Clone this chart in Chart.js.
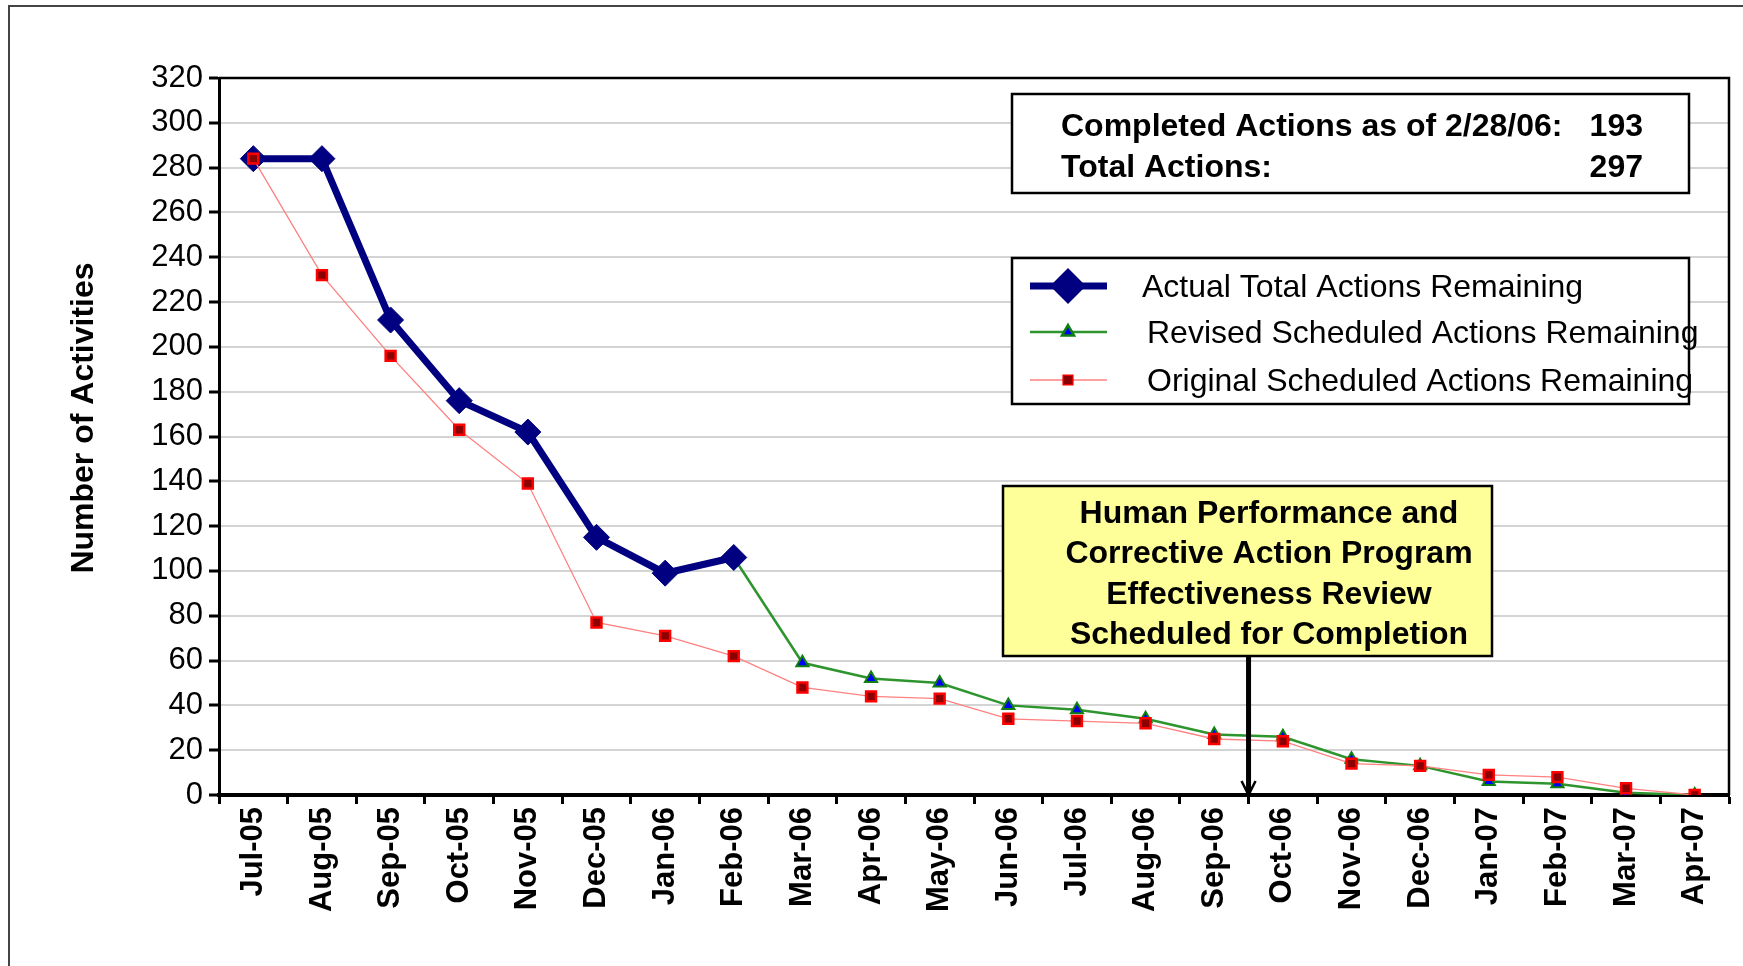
<!DOCTYPE html>
<html>
<head>
<meta charset="utf-8">
<script src="https://cdn.jsdelivr.net/npm/chart.js@4.4.0/dist/chart.umd.min.js"></script>
<style>
    html, body { margin: 0; padding: 0; background: #fff; }
    #wrap { width: 1743px; height: 966px; }
</style>
</head>
<body>
<div id="wrap"><canvas id="chart" width="1743" height="966"></canvas></div>
<script>
// Data
const months = ["Jul-05", "Aug-05", "Sep-05", "Oct-05", "Nov-05", "Dec-05", "Jan-06", "Feb-06",
    "Mar-06", "Apr-06", "May-06", "Jun-06", "Jul-06", "Aug-06", "Sep-06", "Oct-06",
    "Nov-06", "Dec-06", "Jan-07", "Feb-07", "Mar-07", "Apr-07"];
const actualRemaining = [284, 284, 212, 176, 162, 115, 99, 106,
    null, null, null, null, null, null, null, null, null, null, null, null, null, null];
const revisedRemaining = [null, null, null, null, null, null, null, 106,
    59, 52, 50, 40, 38, 34, 27, 26, 16, 13, 6, 5, 1, 0];
const originalRemaining = [284, 232, 196, 163, 139, 77, 71, 62,
    48, 44, 43, 34, 33, 32, 25, 24, 14, 13, 9, 8, 3, 0];
const yMin = 0, yMax = 320, yStep = 20;
const yTitle = "Number of Activities";
const seriesNames = ["Actual Total Actions Remaining", "Revised Scheduled Actions Remaining", "Original Scheduled Actions Remaining"];
const infoRows = [["Completed Actions as of 2/28/06:", "193"], ["Total Actions:", "297"]];
const noteLines = ["Human Performance and", "Corrective Action Program", "Effectiveness Review", "Scheduled for Completion"];
const noteArrowAfter = "Sep-06";

const FONT = "'Liberation Sans', Arial, sans-serif";

const datasets = [
    {
        label: seriesNames[0],
        data: actualRemaining,
        borderColor: "#000080",
        backgroundColor: "#000080",
        borderWidth: 7,
        pointStyle: "rectRot",
        pointRadius: 13,
        pointBorderWidth: 1,
        order: 1
    },
    {
        label: seriesNames[1],
        data: revisedRemaining,
        borderColor: "#2e952e",
        backgroundColor: "#0000ff",
        borderWidth: 2.5,
        pointStyle: "triangle",
        pointRadius: 7,
        pointBorderColor: "#108010",
        pointBorderWidth: 2,
        order: 2
    },
    {
        label: seriesNames[2],
        data: originalRemaining,
        borderColor: "#ff8080",
        backgroundColor: "#8b0000",
        borderWidth: 1.3,
        pointStyle: "rect",
        pointRadius: 7,
        pointBorderColor: "#ff0000",
        pointBorderWidth: 2.5,
        order: 0
    }
];

function box(ctx, x, y, w, h, fill) {
    ctx.save();
    ctx.fillStyle = fill;
    ctx.fillRect(x, y, w, h);
    ctx.lineWidth = 2.5;
    ctx.strokeStyle = "#000";
    ctx.strokeRect(x, y, w, h);
    ctx.restore();
}

const decor = {
    id: "decor",
    beforeDraw(chart) {
        const ctx = chart.ctx;
        ctx.save();
        ctx.fillStyle = "#fff";
        ctx.fillRect(0, 0, chart.width, chart.height);
        // outer frame
        ctx.strokeStyle = "#444";
        ctx.lineWidth = 2;
        ctx.beginPath();
        ctx.moveTo(9, chart.height);
        ctx.lineTo(9, 6);
        ctx.lineTo(chart.width, 6);
        ctx.stroke();
        ctx.restore();
    },
    afterDraw(chart) {
        const ctx = chart.ctx;
        const a = chart.chartArea;
        const x = chart.scales.x;
        ctx.save();

        // y axis title (sits a little above the plot centre in the original)
        ctx.save();
        ctx.translate(84, 418);
        ctx.rotate(-Math.PI / 2);
        ctx.fillStyle = "#000";
        ctx.font = "bold 32px " + FONT;
        ctx.textAlign = "center";
        ctx.textBaseline = "middle";
        ctx.fillText(yTitle, 0, 0);
        ctx.restore();

        // plot frame top / right
        ctx.strokeStyle = "#000";
        ctx.lineWidth = 2.5;
        ctx.beginPath();
        ctx.moveTo(a.left, a.top);
        ctx.lineTo(a.right, a.top);
        ctx.lineTo(a.right, a.bottom);
        ctx.stroke();

        // totals box
        box(ctx, 1012, 94, 677, 99, "#fff");
        ctx.fillStyle = "#000";
        ctx.font = "bold 32px " + FONT;
        ctx.textBaseline = "middle";
        infoRows.forEach((row, i) => {
            const yy = 127 + i * 41;
            ctx.textAlign = "left";
            ctx.fillText(row[0], 1061, yy);
            ctx.textAlign = "right";
            ctx.fillText(row[1], 1643, yy);
        });

        // legend box
        box(ctx, 1012, 258, 677, 146, "#fff");
        const rowsY = [286, 332, 380];
        datasets.forEach((ds, i) => {
            const yy = rowsY[i];
            ctx.strokeStyle = ds.borderColor;
            ctx.lineWidth = ds.borderWidth;
            ctx.beginPath();
            ctx.moveTo(1030, yy);
            ctx.lineTo(1107, yy);
            ctx.stroke();
            ctx.fillStyle = ds.backgroundColor;
            ctx.strokeStyle = ds.pointBorderColor || ds.borderColor;
            Chart.helpers.drawPoint(ctx, {
                pointStyle: ds.pointStyle,
                radius: ds.pointRadius,
                borderWidth: ds.pointBorderWidth,
                rotation: 0
            }, 1068, yy);
            ctx.fillStyle = "#000";
            ctx.font = "32px " + FONT;
            ctx.textAlign = "left";
            ctx.textBaseline = "middle";
            ctx.fillText(ds.label, i === 0 ? 1142 : 1147, yy + 2);
        });

        // yellow note with arrow
        box(ctx, 1003, 486, 489, 170, "#ffff99");
        ctx.fillStyle = "#000";
        ctx.font = "bold 32px " + FONT;
        ctx.textAlign = "center";
        ctx.textBaseline = "middle";
        noteLines.forEach((t, i) => ctx.fillText(t, 1269, 514 + i * 40.5));

        const idx = months.indexOf(noteArrowAfter);
        const ax = (x.getPixelForValue(idx) + x.getPixelForValue(idx + 1)) / 2;
        ctx.strokeStyle = "#000";
        ctx.lineWidth = 5;
        ctx.beginPath();
        ctx.moveTo(ax, 657);
        ctx.lineTo(ax, a.bottom);
        ctx.stroke();
        ctx.lineWidth = 2.5;
        ctx.beginPath();
        ctx.moveTo(ax - 7, a.bottom - 14);
        ctx.lineTo(ax, a.bottom);
        ctx.lineTo(ax + 7, a.bottom - 14);
        ctx.stroke();
        ctx.restore();
    }
};

new Chart(document.getElementById("chart").getContext("2d"), {
    type: "line",
    data: { labels: months, datasets: datasets },
    options: {
        responsive: false,
        animation: false,
        devicePixelRatio: 1,
        layout: { padding: { left: 0, top: 78, right: 7, bottom: 0 } },
        elements: { line: { tension: 0 } },
        plugins: {
            legend: { display: false },
            tooltip: { enabled: false }
        },
        scales: {
            x: {
                type: "category",
                offset: true,
                grid: {
                    offset: true,
                    drawOnChartArea: false,
                    drawTicks: true,
                    tickLength: 9,
                    tickWidth: 3,
                    tickColor: "#000"
                },
                border: { color: "#000", width: 4 },
                ticks: {
                    autoSkip: false,
                    minRotation: 90,
                    maxRotation: 90,
                    color: "#000",
                    padding: 3,
                    font: { family: FONT, size: 31, weight: "bold" }
                },
                afterFit(s) { s.height = 171; }
            },
            y: {
                min: yMin,
                max: yMax,
                ticks: {
                    stepSize: yStep,
                    color: "#000",
                    padding: 6,
                    font: { family: FONT, size: 31 }
                },
                grid: {
                    color: "#d4d4d4",
                    lineWidth: 2,
                    tickColor: "#000",
                    tickLength: 10,
                    tickWidth: 3
                },
                border: { color: "#000", width: 3 },
                afterFit(s) { s.width = 219; }
            }
        }
    },
    plugins: [decor]
});
</script>
</body>
</html>
